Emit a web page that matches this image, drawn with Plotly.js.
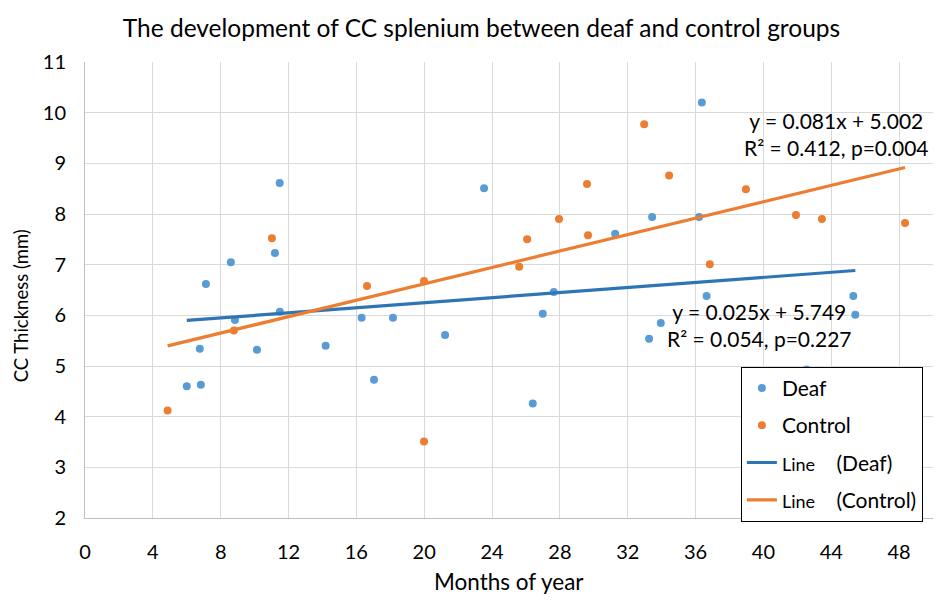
<!DOCTYPE html>
<html>
<head>
<meta charset="utf-8">
<script src="https://cdn.plot.ly/plotly-3.0.1.min.js"></script>
<style>html,body{margin:0;padding:0;background:#fff;}#chart{width:951px;height:607px;}</style>
</head>
<body>
<div id="chart"></div>
<script>
// Deaf group: months and CC thickness (mm)
var deafX = [6.0, 6.83, 6.77, 7.13, 8.6, 8.84, 10.14, 11.2, 11.48, 11.49, 14.19, 16.31, 17.04, 18.16, 21.23, 23.53, 26.4, 26.99, 27.64, 31.26, 33.26, 33.44, 33.95, 36.21, 36.37, 36.65, 42.55, 45.3, 45.42];
var deafY = [4.6, 4.63, 5.34, 6.62, 7.05, 5.91, 5.32, 7.23, 8.61, 6.07, 5.4, 5.95, 4.73, 5.95, 5.61, 8.51, 4.26, 6.03, 6.46, 7.61, 5.54, 7.94, 5.85, 7.94, 10.2, 6.38, 4.93, 6.38, 6.01];
// Control group
var ctrlX = [4.87, 8.78, 11.02, 16.63, 19.99, 19.99, 25.6, 26.07, 27.95, 29.6, 29.66, 32.97, 34.44, 36.84, 38.97, 41.92, 43.45, 48.35];
var ctrlY = [4.12, 5.70, 7.52, 6.58, 6.68, 3.51, 6.96, 7.5, 7.9, 8.59, 7.58, 9.77, 8.76, 7.01, 8.49, 7.98, 7.9, 7.82];
// Regression coefficients [slope, intercept]
var deafFit = [0.025, 5.749];
var ctrlFit = [0.081, 5.002];
var deafEq = ["y = 0.025x + 5.749", "R\u00b2 = 0.054, p=0.227"];
var ctrlEq = ["y = 0.081x + 5.002", "R\u00b2 = 0.412, p=0.004"];
var xTicks = [0, 4, 8, 12, 16, 20, 24, 28, 32, 36, 40, 44, 48];
var yTicks = [2, 3, 4, 5, 6, 7, 8, 9, 10, 11];

function fitLine(xs, c) {
  var lo = Math.min.apply(null, xs), hi = Math.max.apply(null, xs);
  return {x: [lo, hi], y: [c[0] * lo + c[1], c[0] * hi + c[1]]};
}
var dl = fitLine(deafX, deafFit), cl = fitLine(ctrlX, ctrlFit);

var FONT = 'Lato, "Open Sans", sans-serif';
var blue = '#5B9BD5', orange = '#ED7D31', dblue = '#2E75B6';
var SP = '\u00a0\u00a0\u00a0\u00a0';

var traces = [
  {x: deafX, y: deafY, mode: 'markers', type: 'scatter', name: 'Deaf', legendgroup: 'a',
   marker: {color: blue, size: 8}},
  {x: ctrlX, y: ctrlY, mode: 'markers', type: 'scatter', name: 'Control', legendgroup: 'b',
   marker: {color: orange, size: 8}},
  {x: dl.x, y: dl.y, mode: 'lines', type: 'scatter', legendgroup: 'c',
   name: '<span style="font-size:18px">Line</span>' + SP + '(Deaf)', line: {color: dblue, width: 3.2}},
  {x: cl.x, y: cl.y, mode: 'lines', type: 'scatter', legendgroup: 'd',
   name: '<span style="font-size:18px">Line</span>' + SP + '(Control)', line: {color: orange, width: 3.2}}
];

// plot area pixels: left 85.5, right 933, top 61.7, bottom 518.5
function px2x(p) { return (p - 85.5) / 847.5; }
function px2y(p) { return (518.5 - p) / 456.8; }

var layout = {
  width: 951, height: 607,
  margin: {l: 85, r: 18, t: 62, b: 89},
  paper_bgcolor: '#fff', plot_bgcolor: '#fff',
  font: {family: FONT, size: 20, color: '#000'},
  title: {text: 'The development of CC splenium between deaf and control groups',
          font: {family: FONT, size: 24.5, color: '#000'}, x: 481.5 / 951, xanchor: 'center', y: 1 - 28 / 607, yanchor: 'middle'},
  xaxis: {range: [0, 50], tickvals: xTicks, ticktext: xTicks.map(String), showgrid: true,
          gridcolor: '#d9d9d9', gridwidth: 1, showline: true, linecolor: '#bfbfbf', linewidth: 1,
          zeroline: false, ticks: '', ticklen: 0, tickfont: {size: 20}, ticklabelstandoff: 16},
  yaxis: {range: [2, 11], tickvals: yTicks, ticktext: yTicks.map(String), showgrid: true,
          gridcolor: '#d9d9d9', gridwidth: 1, showline: true, linecolor: '#bfbfbf', linewidth: 1,
          zeroline: false, ticks: '', tickfont: {size: 20}, ticklabelstandoff: 14},
  showlegend: true,
  legend: {x: px2x(741), y: px2y(367), xanchor: 'left', yanchor: 'top', bgcolor: '#fff',
           bordercolor: '#000', borderwidth: 1, font: {size: 21}, tracegroupgap: 7,
           traceorder: 'grouped'},
  annotations: [
    {xref: 'paper', yref: 'paper', x: px2x(837), y: px2y(134),
     text: ctrlEq[0] + '<br>' + ctrlEq[1], showarrow: false, align: 'center',
     font: {size: 21}, xanchor: 'center', yanchor: 'middle'},
    {xref: 'paper', yref: 'paper', x: px2x(760), y: px2y(325),
     text: deafEq[0] + '<br>' + deafEq[1], showarrow: false, align: 'center',
     font: {size: 21}, xanchor: 'center', yanchor: 'middle'},
    {xref: 'paper', yref: 'paper', x: 0.5, y: px2y(582), text: 'Months of year',
     showarrow: false, font: {size: 22.5}, xanchor: 'center', yanchor: 'middle'},
    {xref: 'paper', yref: 'paper', x: px2x(21), y: px2y(306), text: 'CC Thickness (mm)',
     showarrow: false, font: {size: 18.5}, textangle: -90, xanchor: 'center', yanchor: 'middle'}
  ]
};
Plotly.newPlot('chart', traces, layout, {displayModeBar: false, staticPlot: true});
</script>
</body>
</html>
